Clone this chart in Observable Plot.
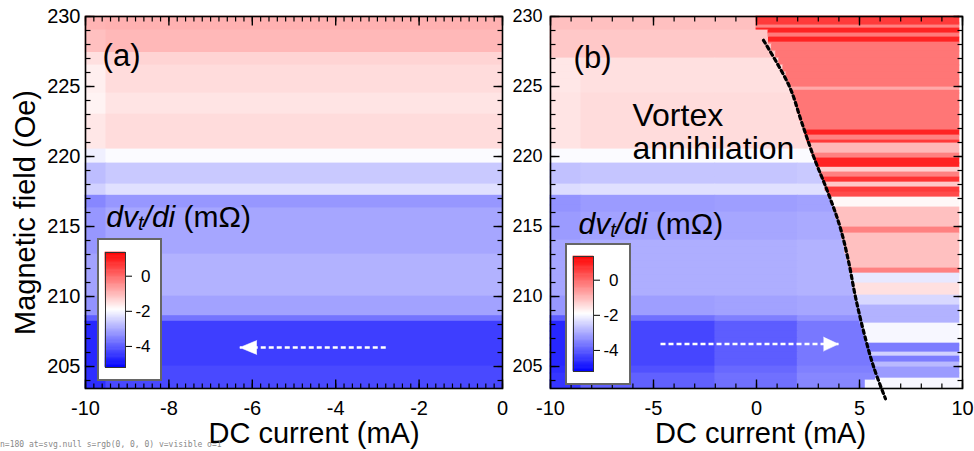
<!DOCTYPE html>
<html><head><meta charset="utf-8">
<script src="https://cdn.jsdelivr.net/npm/d3@7"></script>
<script src="https://cdn.jsdelivr.net/npm/@observablehq/plot@0.6"></script>
<style>
body{margin:0;background:#fff;}
#wrap{position:relative;width:974px;height:451px;overflow:hidden;font-family:"Liberation Sans",Arial,sans-serif;}
.panel{position:absolute;top:0;}
.cbox{position:absolute;background:#fff;border:2px solid #666;box-sizing:border-box;}
.cbox svg{display:block;}
#dbg{position:absolute;left:0;top:440px;font:8px monospace;color:#888;white-space:pre;z-index:20;}
</style></head><body><div id="wrap"></div><div id="dbg"></div>
<script>
// ---------------- data ----------------
const fieldDomain = [203.43, 230];
const xDomainA = [-10, 0];
const xDomainB = [-10, 10];
const xMajorA = [-10, -8, -6, -4, -2, 0];
const xMinorA = d3.range(-10, 0.001, 0.2);
const xMajorB = [-10, -5, 0, 5, 10];
const xMinorB = d3.range(-10, 10.001, 1);
const yMajor = [205, 210, 215, 220, 225, 230];
const yMinor = d3.range(204, 230.001, 1);
const cbTicks = [0, -2, -4];
const cbDomain = [-5.2, 1.35];
const cbPivot = -1.9;

// panel (a): horizontal bands (edges top->bottom, Oe), two current blocks
const aEdges = [230, 229, 227.4, 226.5, 224.5, 223, 220.5, 219.5, 218, 217.2, 216.3, 213, 210, 208.6, 208.2, 205, 203.43];
const aX = [-10, -9.5];
const aValEdge = [-0.95, -1.1, -1.5, -1.7, -1.75, -1.6, -2.1, -2.75, -2.5, -3.45, -3.25, -3.1, -3.3, -4.0, -4.7, -4.6];
const aVal     = [-0.9, -1.0, -1.35, -1.45, -1.55, -1.45, -1.95, -2.6, -2.3, -3.25, -3.05, -2.9, -3.1, -3.7, -4.4, -4.25];

// panel (b), left of the annihilation edge: bands, four current blocks
const bLeftEdges = [230, 229, 227, 224.5, 220.5, 219.5, 218, 217.2, 216, 214, 210, 208.6, 208.2, 205, 204.5, 203.43];
const bLeftX = [-10, -8.5, -2, 2];
const bLeft1 = [-1.1, -1.2, -1.6, -1.55, -1.95, -2.7, -2.35, -3.3, -3.2, -3.05, -3.25, -4.0, -4.7, -4.6, -4.5];
const bLeft2 = [-1.1, -1.2, -1.5, -1.45, -1.95, -2.65, -2.3, -3.2, -3.1, -2.95, -3.15, -3.75, -4.3, -4.15, -3.95];
const bLeft3 = [-1.1, -1.2, -1.5, -1.45, -1.95, -2.65, -2.3, -3.15, -3.05, -2.95, -3.1, -3.55, -4.0, -3.85, -3.75];
const bLeft4 = [-1.15, -1.25, -1.5, -1.45, -1.95, -2.6, -2.3, -3.1, -3.0, -2.9, -3.05, -3.3, -3.65, -3.55, -3.45];

// panel (b), right of the edge: stripes
const bRightEdges = [230, 229.36, 229.14, 228.79, 228.5, 228.14, 224.93, 224.7, 221.86, 221.5, 221.14, 220.93, 220.21, 219.86, 219.2, 218.86, 218.5, 218.14, 217.79, 217.43, 217.07, 216.36, 214.93, 214.5, 212, 211.64, 210.93, 210.07, 209.36, 208.07, 206.64, 206.0, 205.71, 205.29, 204.93, 204.14, 203.43];
const bRightVal = [0.6, -0.3, 0.9, -0.2, 0.9, -0.15, -0.8, -0.15, 0.9, -0.3, 0.6, -1.0, -0.3, 0.9, -1.3, -0.3, 0.7, -1.2, 0.6, 0.4, -1.8, -1.1, -0.3, -1.1, -0.3, -2.2, -1.5, -2.4, -2.9, -2.0, -3.6, -2.5, -3.6, -2.8, -3.2, -2.0];
const bRightEnd = 9.85;

// panel (b): current where the red region starts, per 0.5 Oe row (230 -> 203.5)
const bEdge = [0.0, 0.0, 0.58, 0.6, 0.75, 0.95, 1.1, 1.3, 1.45, 1.55,
  1.7, 1.8, 1.9, 2.0, 2.1, 2.25, 2.35, 2.45, 2.6, 2.7,
  2.85, 2.95, 3.1, 3.25, 3.35, 3.5, 3.65, 3.75, 3.85, 4.0,
  4.1, 4.15, 4.25, 4.3, 4.4, 4.5, 4.55, 4.6, 4.7, 4.75,
  4.85, 4.9, 5.0, 5.05, 5.15, 5.25, 5.35, 5.45, 5.5, 5.6,
  5.7, 5.8, 5.3];

// dashed "vortex annihilation" line
const annihX = [0.34, 1.6, 2.18, 2.77, 3.45, 4.05, 4.47, 4.8, 5.2, 5.68, 6.26];
const annihF = [228.3, 225, 222.5, 220, 217.5, 215, 212.5, 210, 207.5, 205, 202.7];

// sweep arrows
const arrowA = [{x1: -2.8, x2: -6.3, y: 206.36}];
const arrowB = [{x1: -4.66, x2: 3.98, y: 206.6}];

const labelDvdi = "dvt/di (mΩ)";
const xTitle = "DC current (mA)";
const yTitle = "Magnetic field (Oe)";

// ---------------- build ----------------
const FONT = "Liberation Sans, Arial, sans-serif";
const makeColor = () => ({type: "diverging", domain: cbDomain.slice(), pivot: cbPivot, symmetric: false,
  interpolate: d3.piecewise(d3.interpolateRgb, ["#0000ff", "#ffffff", "#ff0000"])});

const aRects = [];
aVal.forEach((v, i) => {
  aRects.push({x1: aX[0], x2: aX[1], y1: aEdges[i + 1], y2: aEdges[i], v: aValEdge[i]});
  aRects.push({x1: aX[1], x2: xDomainA[1], y1: aEdges[i + 1], y2: aEdges[i], v});
});

const bRects = [];
const bLeftCols = [bLeft1, bLeft2, bLeft3, bLeft4];
bEdge.forEach((e, i) => {
  const t = 230 - 0.5 * i;
  const b = i === bEdge.length - 1 ? fieldDomain[0] : t - 0.5;
  for (let j = 0; j < bLeft1.length; j++) {
    const lo = Math.max(b, bLeftEdges[j + 1]), hi = Math.min(t, bLeftEdges[j]);
    if (hi <= lo) continue;
    for (let k = 0; k < bLeftX.length; k++) {
      const xs = bLeftX[k];
      const xe = Math.min(k < bLeftX.length - 1 ? bLeftX[k + 1] : e, e);
      if (xe > xs) bRects.push({x1: xs, x2: xe, y1: lo, y2: hi, v: bLeftCols[k][j]});
    }
  }
  for (let j = 0; j < bRightVal.length; j++) {
    const lo = Math.max(b, bRightEdges[j + 1]), hi = Math.min(t, bRightEdges[j]);
    if (hi <= lo) continue;
    bRects.push({x1: e, x2: bRightEnd, y1: lo, y2: hi, v: bRightVal[j]});
  }
});

// inward ticks: links whose length is given in scale units (pixels / scale factor)
function tickMarks(xMajor, xMinor, xDom, w, h) {
  const kx = (xDom[1] - xDom[0]) / w, ky = (fieldDomain[1] - fieldDomain[0]) / h;
  const MJ = 9, MN = 5;
  const ticks = [];
  const add = (vals, len, sw) => vals.forEach(v => {
    ticks.push({x1: v, x2: v, y1: fieldDomain[0], y2: fieldDomain[0] + len * ky, sw});
    ticks.push({x1: v, x2: v, y1: fieldDomain[1], y2: fieldDomain[1] - len * ky, sw});
  });
  const addY = (vals, len, sw) => vals.forEach(v => {
    ticks.push({x1: xDom[0], x2: xDom[0] + len * kx, y1: v, y2: v, sw});
    ticks.push({x1: xDom[1], x2: xDom[1] - len * kx, y1: v, y2: v, sw});
  });
  add(xMajor, MJ, 1.4); add(xMinor, MN, 1.2); addY(yMajor, MJ, 1.4); addY(yMinor, MN, 1.2);
  return Plot.link(ticks, {x1: "x1", x2: "x2", y1: "y1", y2: "y2", stroke: "black", strokeWidth: "sw"});
}

function frameAxes(xMajor, xMinor, xDom, yFont, yPad, w, h) {
  const fmt = d => String(d);
  return [
    tickMarks(xMajor, xMinor, xDom, w, h),
    Plot.frame({stroke: "black", strokeWidth: 1.6}),
    Plot.axisX(xMajor, {anchor: "bottom", tickSize: 0, tickPadding: 12, label: null, fontSize: 20, tickFormat: fmt}),
    Plot.axisY(yMajor, {anchor: "left", tickSize: 0, tickPadding: yPad, label: null, fontSize: yFont, tickFormat: fmt})
  ];
}

function arrowMarks(data, rot, len) {
  return [
    Plot.link(data, {x1: "x1", x2: "x2", y1: "y", y2: "y", stroke: "white", strokeWidth: 2.5, strokeDasharray: "5,3"}),
    Plot.vector(data, {x: "x2", y: "y", rotate: rot, length: len, shape: "spike", r: 7, anchor: "end", fill: "white", stroke: "white", strokeWidth: 0.5})
  ];
}

function styleDvdi(svg) {
  svg.querySelectorAll("text").forEach(t => {
    if (t.textContent === labelDvdi) {
      t.textContent = "";
      const parts = [["dv", "italic", null, 0], ["t", "italic", 20, 3], ["/di", "italic", null, -3], [" (mΩ)", "normal", null, 0]];
      for (const [s, st, size, dy] of parts) {
        const ts = document.createElementNS("http://www.w3.org/2000/svg", "tspan");
        ts.textContent = s;
        ts.setAttribute("font-style", st);
        if (size) ts.setAttribute("font-size", size);
        if (dy) ts.setAttribute("dy", dy);
        t.appendChild(ts);
      }
    }
  });
}

const wrap = document.getElementById("wrap");
const baseStyle = () => ({background: "transparent", fontFamily: FONT, color: "black", overflow: "visible"});
const overlays = [];

function addPanel(left, width, layout, contentMarks, axisMarks) {
  const base = Plot.plot({width, height: 451, ...layout, x: {...layout.x, axis: null}, y: {...layout.y, axis: null},
    color: makeColor(), style: baseStyle(), marks: contentMarks});
  styleDvdi(base);
  const top = Plot.plot({width, height: 451, ...layout, color: makeColor(), style: baseStyle(), marks: axisMarks});
  overlays.push(top);
  for (const svg of [base, top]) {
    const d = document.createElement("div");
    d.className = "panel"; d.style.left = left + "px"; d.style.width = width + "px";
    d.appendChild(svg); wrap.appendChild(d);
  }
}

// panel (a)
addPanel(0, 510,
  {marginLeft: 85, marginRight: 8, marginTop: 16, marginBottom: 63, x: {domain: xDomainA}, y: {domain: fieldDomain}},
  [
    Plot.rect(aRects, {x1: "x1", x2: "x2", y1: "y1", y2: "y2", fill: "v", inset: -0.4}),
    ...arrowMarks(arrowA, 270, 17),
    Plot.text(["(a)"], {text: d => d, x: -9.59, y: 226.43, textAnchor: "start", lineAnchor: "bottom", fontSize: 31}),
    Plot.text([labelDvdi], {text: d => d, x: -9.5, y: 215.0, textAnchor: "start", lineAnchor: "bottom", fontSize: 30}),
    Plot.text([xTitle], {text: d => d, frameAnchor: "bottom", dx: 20, dy: 54, lineAnchor: "bottom", fontSize: 29}),
    Plot.text([yTitle], {text: d => d, frameAnchor: "left", rotate: -90, dx: -60, dy: 10, textAnchor: "middle", lineAnchor: "middle", fontSize: 29})
  ],
  frameAxes(xMajorA, xMinorA, xDomainA, 20, 5, 417, 372)
);

// panel (b)
addPanel(510, 464,
  {marginLeft: 40, marginRight: 12, marginTop: 16, marginBottom: 63, x: {domain: xDomainB}, y: {domain: fieldDomain}},
  [
    Plot.rect(bRects, {x1: "x1", x2: "x2", y1: "y1", y2: "y2", fill: "v", inset: -0.4}),
    ...arrowMarks(arrowB, 90, 15),
    Plot.text(["(b)"], {text: d => d, x: -8.88, y: 226.29, textAnchor: "start", lineAnchor: "bottom", fontSize: 31}),
    Plot.text(["Vortex"], {text: d => d, x: -6.02, y: 222.21, textAnchor: "start", lineAnchor: "bottom", fontSize: 32}),
    Plot.text(["annihilation"], {text: d => d, x: -6.02, y: 219.79, textAnchor: "start", lineAnchor: "bottom", fontSize: 32}),
    Plot.text([labelDvdi], {text: d => d, x: -8.64, y: 214.5, textAnchor: "start", lineAnchor: "bottom", fontSize: 30}),
    Plot.text([xTitle], {text: d => d, frameAnchor: "bottom", dx: 4, dy: 54, lineAnchor: "bottom", fontSize: 29})
  ],
  [
    ...frameAxes(xMajorB, xMinorB, xDomainB, 18, 8, 412, 372),
    Plot.line(annihX.map((x, i) => ({x, f: annihF[i]})), {x: "x", y: "f", stroke: "black", strokeWidth: 3.2, strokeDasharray: "3.5,3.5", curve: "catmull-rom"})
  ]
);

// colour bars
function colorbar(left, top, w, h, mt, mb) {
  const box = document.createElement("div");
  box.className = "cbox";
  box.style.left = left + "px"; box.style.top = top + "px";
  box.style.width = w + "px"; box.style.height = h + "px";
  const steps = d3.range(cbDomain[0], cbDomain[1], 0.05);
  const cb = Plot.plot({
    width: w - 4, height: h - 4, marginLeft: 6, marginRight: w - 4 - 26, marginTop: mt, marginBottom: mb,
    x: {domain: [0, 1], axis: null}, y: {domain: cbDomain.slice()}, color: makeColor(), style: baseStyle(),
    marks: [
      Plot.rect(steps, {x1: 0, x2: 1, y1: d => d, y2: d => Math.min(d + 0.05, cbDomain[1]), fill: d => d + 0.025, inset: -0.3}),
      Plot.frame({stroke: "#333", strokeWidth: 1}),
      Plot.axisY(cbTicks, {anchor: "right", tickSize: 6, tickPadding: 19, textAnchor: "end", label: null, fontSize: 17, tickFormat: d => String(d)})
    ]
  });
  box.appendChild(cb);
  wrap.appendChild(box);
}
colorbar(97, 238, 65, 143, 12, 12);
colorbar(565, 243, 66, 142, 11, 12);

// tiny diagnostics line (grey, bottom-left)
try {
  const ov = overlays[0];
  const lk = ov.querySelectorAll("path, line");
  const el = document.elementFromPoint(168, 384);
  const first = lk[0];
  const cs = first ? getComputedStyle(first) : null;
  document.getElementById("dbg").textContent = "n=" + lk.length + " at=" + (el ? el.tagName + "." + (el.parentNode && el.parentNode.getAttribute ? el.parentNode.getAttribute("aria-label") : "") : "none") +
    (cs ? " s=" + cs.stroke + " v=" + cs.visibility + " o=" + cs.opacity : "");
} catch (e) { document.getElementById("dbg").textContent = "err " + e.message; }
</script>
</body></html>
